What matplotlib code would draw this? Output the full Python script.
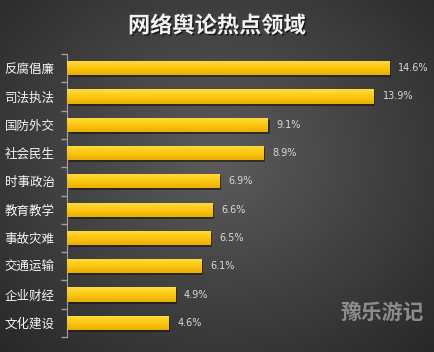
import numpy as np
import matplotlib
matplotlib.use('Agg')
import matplotlib.pyplot as plt
import matplotlib.patheffects as pe
from matplotlib.colors import LinearSegmentedColormap

plt.rcParams['font.family'] = ['Noto Sans CJK SC', 'DejaVu Sans']

categories = ['反腐倡廉', '司法执法', '国防外交', '社会民生', '时事政治',
              '教育教学', '事故灾难', '交通运输', '企业财经', '文化建设']
values = [14.6, 13.9, 9.1, 8.9, 6.9, 6.6, 6.5, 6.1, 4.9, 4.6]
labels = ['14.6%', '13.9%', '9.1%', '8.9%', '6.9%', '6.6%', '6.5%', '6.1%', '4.9%', '4.6%']

W, H = 434, 352
fig = plt.figure(figsize=(W / 100, H / 100), dpi=100)

# radial grey background
bg = fig.add_axes([0, 0, 1, 1])
yy, xx = np.mgrid[0:H, 0:W]
r = np.sqrt(((xx - W * 0.5) / (W * 0.7)) ** 2 + ((yy - H * 0.45) / (H * 0.75)) ** 2)
shade = np.clip(0.36 - 0.2 * r, 0.15, 0.4)
bg.imshow(np.dstack([shade] * 3), aspect='auto', extent=[0, 1, 0, 1])
bg.axis('off')

ax = fig.add_axes([67 / W, 1 - 337 / H, (420 - 67) / W, (337 - 54) / H])
ax.patch.set_alpha(0)
y = np.arange(len(categories))
gold = LinearSegmentedColormap.from_list('gold', ['#FFDC40', '#FCC811', '#EBAE00'])
grad = np.linspace(0, 1, 50).reshape(-1, 1)

# shadow then gradient-filled bars
ax.barh(y + 0.07, values, height=0.5, left=0.08, color='#151515', alpha=0.6, zorder=2)
bars = ax.barh(y, values, height=0.5, color='none', zorder=3)
for b in bars:
    x0, y0 = b.get_x(), b.get_y()
    im = ax.imshow(grad, cmap=gold, aspect='auto', zorder=3,
                   extent=[x0, x0 + b.get_width(), y0 + b.get_height(), y0])
    im.set_clip_path(b)
ax.set_xlim(0, 16)
ax.set_ylim(len(categories) - 0.5, -0.5)

for yi, v, lab in zip(y, values, labels):
    ax.text(v + 0.4, yi, lab, va='center', ha='left', color='#d9d9d9',
            fontsize=7, family=['DejaVu Sans'])

ax.set_yticks(y)
ax.set_yticklabels(categories, color='#f5f5f5', fontsize=9)
ax.set_yticks(np.arange(-0.5, len(categories)), minor=True)
ax.tick_params(axis='y', which='major', length=0, pad=9)
ax.tick_params(axis='y', which='minor', length=4, color='#a0a0a0', width=1)
ax.set_xticks([])
for s in ['top', 'right', 'bottom']:
    ax.spines[s].set_visible(False)
ax.spines['left'].set_color('#a0a0a0')

fig.text(0.5, 1 - 26 / H, '网络舆论热点领域', ha='center', va='center', color='#f2f2f2',
         fontsize=16, fontweight='bold',
         path_effects=[pe.withSimplePatchShadow(offset=(1, -1), shadow_rgbFace='black', alpha=0.6)])
fig.text(382 / W, 1 - 313 / H, '豫乐游记', ha='center', va='center', color='#8c8c8c',
         fontsize=15, fontweight='bold')

fig.savefig('out.png', dpi=100)
